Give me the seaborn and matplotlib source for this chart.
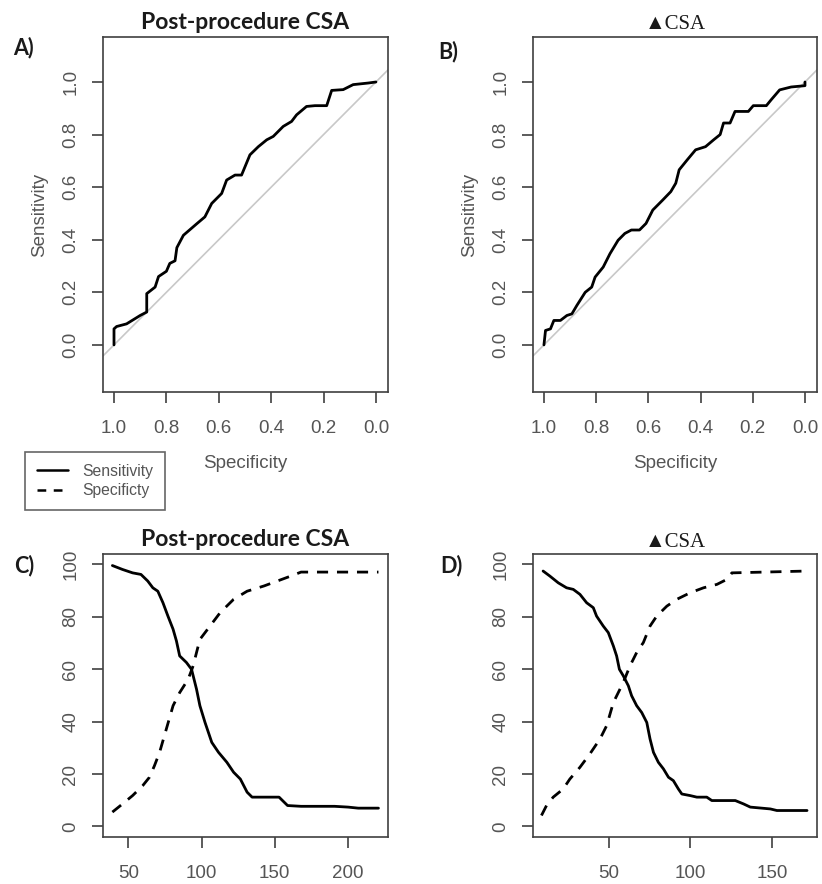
import numpy as np
import pandas as pd
import seaborn as sns
import matplotlib.pyplot as plt
from matplotlib.lines import Line2D

# ROC curve, post-procedure CSA (panel A)
roc_a_spec = [1.0, 1.0, 0.99, 0.952, 0.90, 0.875, 0.875, 0.843, 0.83, 0.80, 0.787, 0.767,
              0.76, 0.735, 0.685, 0.653, 0.627, 0.589, 0.57, 0.538, 0.513, 0.481, 0.449,
              0.417, 0.392, 0.354, 0.322, 0.303, 0.265, 0.233, 0.188, 0.169, 0.125, 0.087,
              0.03, 0.0]
roc_a_sens = [0.0, 0.061, 0.07, 0.08, 0.112, 0.125, 0.195, 0.22, 0.26, 0.28, 0.31, 0.32,
              0.37, 0.417, 0.46, 0.487, 0.538, 0.576, 0.627, 0.646, 0.646, 0.723, 0.754,
              0.78, 0.793, 0.831, 0.85, 0.875, 0.907, 0.91, 0.91, 0.968, 0.971, 0.99,
              0.996, 1.0]

# ROC curve, delta CSA (panel B)
roc_b_spec = [1.0, 0.994, 0.975, 0.962, 0.937, 0.912, 0.893, 0.874, 0.842, 0.817, 0.804,
              0.773, 0.747, 0.716, 0.69, 0.665, 0.634, 0.609, 0.583, 0.545, 0.514, 0.495,
              0.482, 0.451, 0.419, 0.381, 0.35, 0.325, 0.312, 0.287, 0.268, 0.217, 0.198,
              0.148, 0.129, 0.097, 0.053, 0.0, 0.0]
roc_b_sens = [0.0, 0.055, 0.061, 0.093, 0.093, 0.112, 0.118, 0.15, 0.2, 0.22, 0.258,
              0.296, 0.347, 0.398, 0.424, 0.437, 0.437, 0.462, 0.513, 0.551, 0.583, 0.615,
              0.666, 0.704, 0.742, 0.754, 0.78, 0.8, 0.844, 0.844, 0.888, 0.888, 0.91,
              0.91, 0.933, 0.97, 0.981, 0.986, 1.0]

# Sensitivity / specificity vs cut-off, post-procedure CSA (panel C)
cut_c_sens_x = [39.2, 46.1, 53, 58.7, 63.3, 66.8, 70.2, 73.7, 77.1, 80.6, 82.9, 85.1, 89.7,
                93.2, 96.6, 98.9, 102.4, 107, 111.6, 117.3, 121.9, 126.5, 131.1, 134.5,
                144.9, 152.9, 158.7, 167.9, 190.8, 200, 206.9, 220.7]
cut_c_sens_y = [99.6, 98.1, 96.8, 96.2, 93.7, 91.1, 89.8, 85.4, 80.3, 75.3, 70.8, 65.1, 62.6,
                60.0, 52.4, 46.1, 39.7, 32.1, 28.3, 24.5, 20.7, 18.1, 13.1, 11.2,
                11.2, 11.2, 8.0, 7.7, 7.7, 7.4, 7.0, 7.0]
cut_c_spec_x = [39.2, 46.1, 53, 59.9, 64.5, 67.9, 71.4, 76, 80.6, 85.1, 90.9, 94.3, 96.6,
                98.9, 105.8, 112.7, 121.9, 131.1, 142.6, 151.8, 161, 167.9, 220.7]
cut_c_spec_y = [5.5, 8.6, 11.8, 15.6, 18.8, 23.2, 28.3, 37.2, 46.1, 51.1, 56.2, 61.3, 66.4,
                71.4, 76.5, 81.6, 86.7, 89.8, 91.8, 93.7, 95.6, 97.1, 97.1]

# Sensitivity / specificity vs cut-off, delta CSA (panel D)
cut_d_sens_x = [9.6, 13.7, 18.9, 24, 28.1, 32.2, 36.3, 40.4, 42.4, 46.5, 49.6, 52.7, 54.7,
                56.4, 58.8, 61.9, 63.9, 67, 70.1, 73.2, 75.2, 77.3, 80.3, 83.4, 86.5, 89.5,
                92.6, 94.7, 99.8, 103.9, 110, 113.1, 127.5, 132.6, 136.7, 149, 153, 171.5]
cut_d_sens_y = [97.5, 95.6, 93.0, 91.1, 90.5, 88.6, 85.4, 83.5, 80.3, 76.5, 74.0, 68.9, 65.1,
                60.0, 57.5, 53.7, 49.9, 46.1, 43.5, 39.7, 33.4, 28.3, 24.5, 22.0, 18.8, 17.5,
                14.3, 12.4, 11.8, 11.2, 11.2, 9.9, 9.9, 8.6, 7.4, 6.7, 6.1, 6.1]
cut_d_spec_x = [8.6, 11.7, 15.8, 21.9, 26, 32.2, 38.3, 44.5, 48.6, 52.7, 58.8, 62.9, 67,
                71.1, 75.2, 79.3, 85.5, 91.6, 99.8, 108, 116.2, 122.3, 125.4, 171.5]
cut_d_spec_y = [4.2, 8.0, 11.2, 14.3, 18.1, 22.6, 27.7, 33.4, 38.5, 47.3, 55.0, 61.3, 66.4,
                70.2, 76.5, 80.3, 84.1, 86.7, 89.2, 91.1, 92.4, 94.3, 96.8, 97.5]

roc_ticks = [1.0, 0.8, 0.6, 0.4, 0.2, 0.0]
pct_ticks = [0, 20, 40, 60, 80, 100]

sns.set_style("ticks")
plt.rcParams["font.family"] = ["Liberation Sans", "DejaVu Sans"]

GREY = "#555555"
fig = plt.figure(figsize=(8.22, 8.84), dpi=100)
axA = fig.add_axes([0.1253, 0.5566, 0.3467, 0.4015])
axB = fig.add_axes([0.6484, 0.5566, 0.3455, 0.4015])
axC = fig.add_axes([0.1253, 0.0532, 0.3467, 0.3201])
axD = fig.add_axes([0.6484, 0.0532, 0.3455, 0.3201])


def style(ax):
    for s in ax.spines.values():
        s.set_color("#404040")
        s.set_linewidth(1.2)
    ax.tick_params(direction="out", length=8, width=1.2, color="#404040",
                   labelsize=13.5, labelcolor=GREY, pad=9)
    ax.tick_params(axis="x", pad=12)
    plt.setp(ax.get_yticklabels(), rotation=90, va="center")


for ax, sx, sy in [(axA, roc_a_spec, roc_a_sens), (axB, roc_b_spec, roc_b_sens)]:
    ax.axline((1, 0), slope=-1, color="#c8c8c8", lw=1.2, zorder=1)
    df = pd.DataFrame({"spec": sx, "sens": sy})
    sns.lineplot(data=df, x="spec", y="sens", sort=False, estimator=None,
                 color="black", lw=2, ax=ax, zorder=3)
    ax.set_xlim(1.042, -0.046)
    ax.set_ylim(-0.179, 1.171)
    ax.set_xticks(roc_ticks)
    ax.set_yticks([0.0, 0.2, 0.4, 0.6, 0.8, 1.0])
    ax.xaxis.set_major_formatter("{x:.1f}")
    ax.yaxis.set_major_formatter("{x:.1f}")
    ax.set_xlabel("Specificity", fontsize=13.5, color=GREY, labelpad=13)
    ax.set_ylabel("Sensitivity", fontsize=13.5, color=GREY, labelpad=10)
    style(ax)

for ax, a, b, c, d, xt, xl in [
    (axC, cut_c_sens_x, cut_c_sens_y, cut_c_spec_x, cut_c_spec_y, [50, 100, 150, 200], (32.8, 227.2)),
    (axD, cut_d_sens_x, cut_d_sens_y, cut_d_spec_x, cut_d_spec_y, [50, 100, 150], (3.4, 177.6)),
]:
    sens = pd.DataFrame({"x": a, "y": b})
    spec = pd.DataFrame({"x": c, "y": d})
    sns.lineplot(data=sens, x="x", y="y", sort=False, estimator=None,
                 color="black", lw=2, ax=ax)
    sns.lineplot(data=spec, x="x", y="y", sort=False, estimator=None,
                 color="black", lw=2, ax=ax).lines[-1].set_dashes((4, 3.2))
    ax.set_xlim(*xl)
    ax.set_ylim(-4, 104)
    ax.set_xticks(xt)
    ax.set_yticks(pct_ticks)
    ax.set_xlabel("")
    ax.set_ylabel("")
    style(ax)

# titles
title_kw = dict(fontsize=16.5, fontweight="bold", family=["Lato", "DejaVu Sans"], color="#1a1a1a")
tri_kw = dict(fontsize=15, family=["Liberation Serif", "DejaVu Serif"], color="#1a1a1a")
axA.set_title("Post-procedure CSA", pad=6, **title_kw)
axC.set_title("Post-procedure CSA", pad=6, **title_kw)
axB.set_title("▲CSA", pad=6, **tri_kw)
axD.set_title("▲CSA", pad=5, **tri_kw)

# panel letters
lab_kw = dict(fontsize=15.5, fontweight="bold", family=["Lato", "DejaVu Sans"], color="#1a1a1a",
              va="center", ha="left")
fig.text(13 / 822, 1 - 48 / 884, "A)", **lab_kw)
fig.text(438 / 822, 1 - 52 / 884, "B)", **lab_kw)
fig.text(14 / 822, 1 - 566 / 884, "C)", **lab_kw)
fig.text(440 / 822, 1 - 566 / 884, "D)", **lab_kw)

# legend
handles = [Line2D([], [], color="black", lw=1.8),
           Line2D([], [], color="black", lw=1.8, dashes=(3.5, 3))]
leg = fig.legend(handles, ["Sensitivity", "Specificty"], loc="upper left",
                 bbox_to_anchor=(25 / 822, 1 - 452 / 884), borderaxespad=0,
                 fontsize=11.3, fancybox=False, edgecolor="#404040", handlelength=2.0,
                 labelspacing=0.3, borderpad=0.75, handletextpad=0.9)
for t in leg.get_texts():
    t.set_color(GREY)
leg.get_frame().set_linewidth(1.2)

plt.savefig("out.png", dpi=100)
